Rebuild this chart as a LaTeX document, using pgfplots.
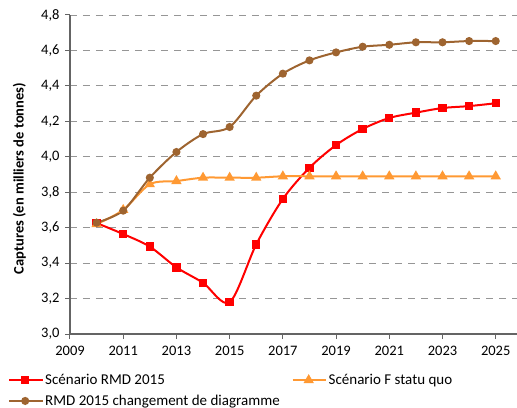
\documentclass[border=0pt]{standalone}
\usepackage{fontspec}
\setmainfont{Carlito}
\usepackage{pgfplots}
\pgfplotsset{compat=1.18}
\definecolor{cred}{RGB}{255,0,0}
\definecolor{corange}{RGB}{255,153,51}
\definecolor{cbrown}{RGB}{158,100,48}
\definecolor{cgrid}{RGB}{150,150,150}
\definecolor{caxis}{RGB}{100,100,100}
\begin{document}
\begin{tikzpicture}
\begin{axis}[
  scale only axis,
  width=447bp, height=319bp,
  xmin=2009, xmax=2025.8,
  ymin=3.0, ymax=4.8,
  xtick={2009,2011,...,2025},
  ytick={3.0,3.2,...,4.81},
  axis x line*=bottom, axis y line*=left,
  axis line style={caxis, line width=1.3bp, -},
  tick style={caxis, line width=1bp},
  tick align=outside,
  major tick length=5bp,
  ymajorgrids,
  grid style={cgrid, line width=0.9bp, dash pattern=on 7bp off 6bp},
  font=\fontsize{14.5bp}{17bp}\selectfont,
  /pgf/number format/assume math mode=true,
  xticklabel style={/pgf/number format/1000 sep={}},
  yticklabel style={/pgf/number format/.cd, use comma, fixed, fixed zerofill, precision=1},
  xticklabel shift=4bp,
  yticklabel shift=2bp,
  ylabel={\bfseries Captures (en milliers de tonnes)},
  ylabel style={font=\fontsize{14bp}{17bp}\selectfont},
  every axis y label/.style={at={(axis description cs:-0.113,0.487)}, rotate=90, anchor=center},
  legend columns=2,
  legend cell align=left,
  legend style={draw=none, fill=none, at={(axis description cs:0,0)}, anchor=north west,
    xshift=-62bp, yshift=-38bp, font=\fontsize{15bp}{17bp}\selectfont,
    row sep=5bp, inner sep=0pt,
    /tikz/every even column/.append style={column sep=10bp}},
  legend image code/.code={
    \draw[#1, mark repeat=2, mark phase=2] plot coordinates {(0bp,0bp) (16bp,0bp) (33bp,0bp)};},
  clip=false,
]
\addplot[cred, line width=2bp, smooth, tension=0.5, mark=square*, mark size=3.2bp, mark options={solid}] coordinates {
(2010,3.626) (2011,3.564) (2012,3.493) (2013,3.376) (2014,3.289) (2015,3.179)
(2016,3.506) (2017,3.762) (2018,3.938) (2019,4.066) (2020,4.157) (2021,4.219)
(2022,4.249) (2023,4.275) (2024,4.286) (2025,4.302)};
\addlegendentry{Scénario RMD 2015}
\addplot[corange, line width=2bp, smooth, tension=0.5, mark=triangle*, mark size=4bp, mark options={solid}] coordinates {
(2010,3.620) (2011,3.700) (2012,3.845) (2013,3.863) (2014,3.882) (2015,3.882)
(2016,3.882) (2017,3.890) (2018,3.890) (2019,3.890) (2020,3.890) (2021,3.890)
(2022,3.890) (2023,3.890) (2024,3.890) (2025,3.890)};
\addlegendentry{Scénario F statu quo}
\addplot[cbrown, line width=2bp, smooth, tension=0.5, mark=*, mark size=3bp, mark options={solid}] coordinates {
(2010,3.628) (2011,3.696) (2012,3.882) (2013,4.027) (2014,4.128) (2015,4.168)
(2016,4.345) (2017,4.469) (2018,4.544) (2019,4.589) (2020,4.621) (2021,4.632)
(2022,4.646) (2023,4.646) (2024,4.653) (2025,4.653)};
\addlegendentry{RMD 2015 changement de diagramme}
\end{axis}
\pgfresetboundingbox
\path[use as bounding box] (-70bp,-74bp) rectangle (447bp,334bp);
\end{tikzpicture}
\end{document}
